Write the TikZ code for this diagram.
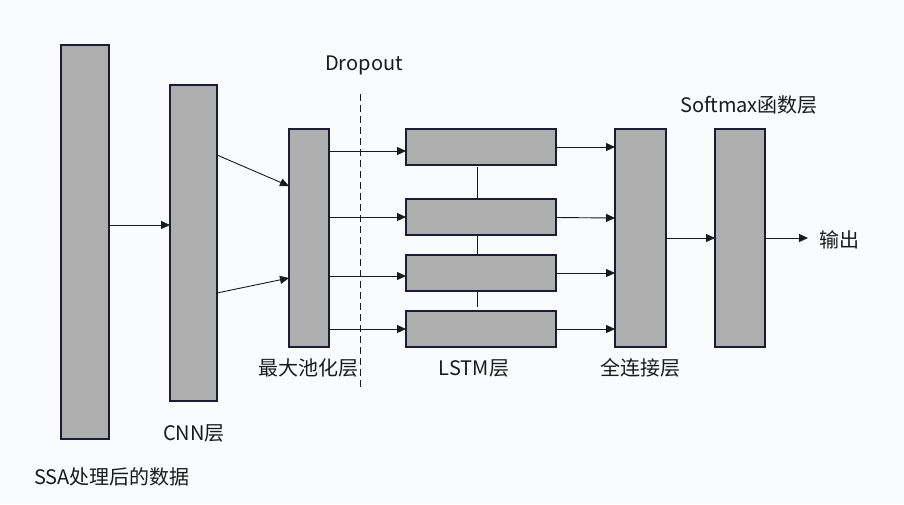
\documentclass[tikz,border=0pt]{standalone}
\usepackage{fontspec}
\setmainfont{Noto Sans CJK SC}
\usetikzlibrary{arrows.meta,calc}
\definecolor{bgc}{HTML}{FAFBFE}
\definecolor{boxf}{HTML}{AEAEAE}
\definecolor{boxd}{HTML}{1C1C36}
\definecolor{txt}{HTML}{1A1A1A}
\tikzset{
  blk/.style={draw=boxd, fill=boxf, line width=1.3pt, inner sep=0pt, outer sep=0pt},
  arr/.style={draw=txt, line width=0.9pt, -{Triangle[length=9pt,width=8pt]}},
  lnk/.style={draw=txt, line width=0.9pt},
  lbl/.style={text=txt, inner sep=0pt, font=\fontsize{20}{23}\selectfont},
}
\begin{document}
\begin{tikzpicture}[x=1pt,y=-1pt]
\fill[bgc] (0,0) rectangle (904,504);
\useasboundingbox (0,0) rectangle (904,504);
% boxes
\node[blk, minimum width=48pt, minimum height=394pt] (b1) at (85,242) {};
\node[blk, minimum width=47pt, minimum height=316pt] (b2) at (193.5,243) {};
\node[blk, minimum width=40pt, minimum height=218pt] (b3) at (309,238) {};
\node[blk, minimum width=150pt, minimum height=36pt] (l1) at (481,147) {};
\node[blk, minimum width=150pt, minimum height=36pt] (l2) at (481,217) {};
\node[blk, minimum width=150pt, minimum height=36pt] (l3) at (481,273) {};
\node[blk, minimum width=150pt, minimum height=36pt] (l4) at (481,329) {};
\node[blk, minimum width=51pt, minimum height=218pt] (fc) at (640.5,238) {};
\node[blk, minimum width=50pt, minimum height=218pt] (sm) at (740,238) {};
% dashed line
\coordinate (d1) at (360,94);
\coordinate (d2) at (360,388);
\draw[lnk, dash pattern=on 7pt off 4pt] (d1) -- (d2);
% arrows
\draw[arr] (b1.east |- 0,225) -- (b2.west |- 0,225);
\draw[arr] (b2.east |- 0,155) -- (b3.west |- 0,186);
\draw[arr] (b2.east |- 0,293) -- (b3.west |- 0,278);
\draw[arr] (b3.east |- 0,151) -- (l1.west |- 0,151);
\draw[arr] (b3.east |- 0,217) -- (l2.west |- 0,217);
\draw[arr] (b3.east |- 0,276) -- (l3.west |- 0,276);
\draw[arr] (b3.east |- 0,329) -- (l4.west |- 0,329);
\draw[arr] (l1.east |- 0,147) -- (fc.west |- 0,147);
\draw[arr] (l2.east |- 0,217.5) -- (fc.west |- 0,218);
\draw[arr] (l3.east |- 0,273) -- (fc.west |- 0,273);
\draw[arr] (l4.east |- 0,329) -- (fc.west |- 0,329);
\draw[arr] (fc.east |- 0,238) -- (sm.west |- 0,238);
\coordinate (out) at (808,238);
\draw[arr] (sm.east |- 0,238) -- (out);
% LSTM links
\draw[lnk] ($(l1.south -| 477,0)+(0,2)$) -- (l2.north -| 477,0);
\draw[lnk] (l2.south -| 477,0) -- (l3.north -| 477,0);
\draw[lnk] (l3.south -| 477,0) -- ($(l4.north -| 477,0)+(0,-4)$);
% labels
\node[lbl] (tdrop) at (364,65) {Dropout};
\node[lbl] (tssa) at (112,477) {SSA处理后的数据};
\node[lbl] (tcnn) at (194,433) {CNN层};
\node[lbl] (tpool) at (308,368) {最大池化层};
\node[lbl] (tlstm) at (474,368) {LSTM层};
\node[lbl] (tfc) at (640,368) {全连接层};
\node[lbl] (tsm) at (749,105) {Softmax函数层};
\node[lbl, anchor=west] (tout) at (819,240) {输出};
\end{tikzpicture}
\end{document}
